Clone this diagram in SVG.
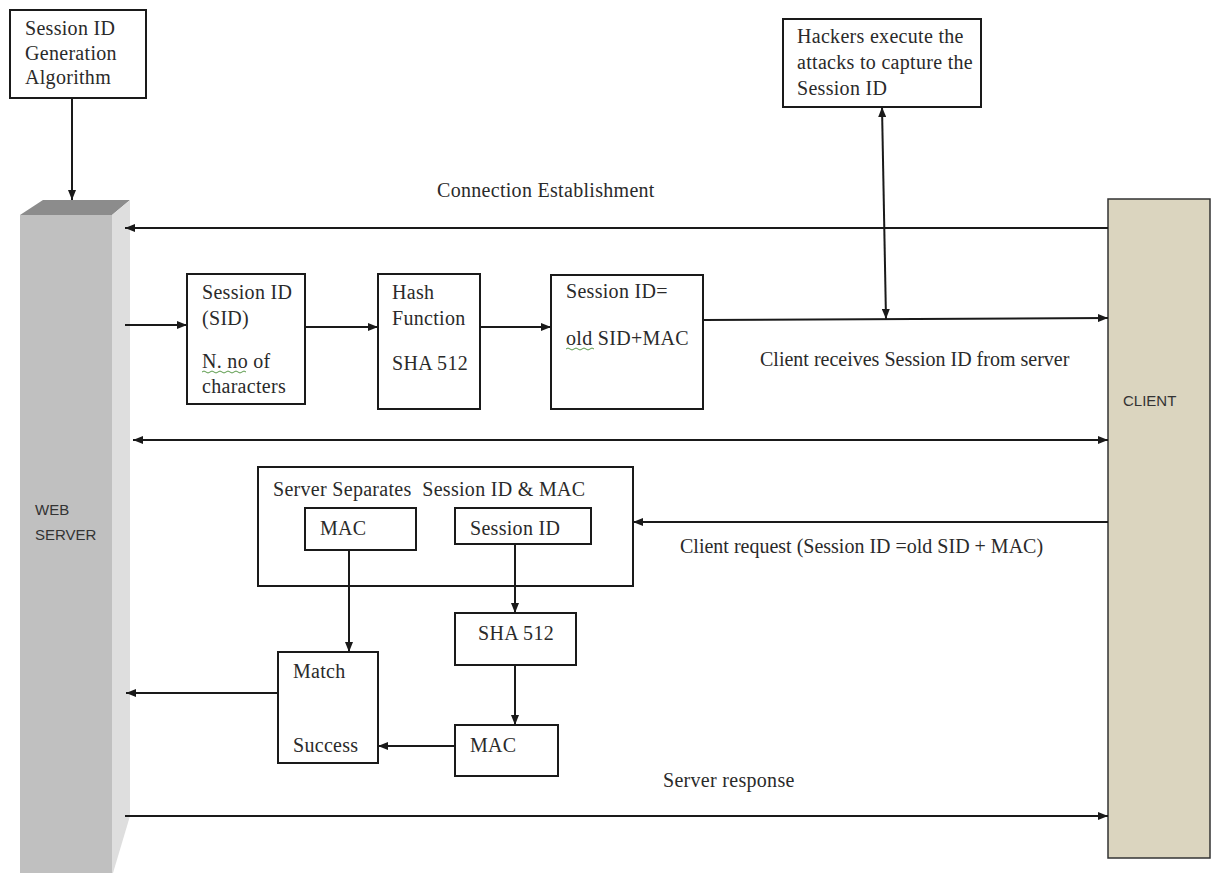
<svg xmlns="http://www.w3.org/2000/svg" width="1218" height="873" viewBox="0 0 1218 873">
<style>
.box{fill:#fff;stroke:#1a1a1a;stroke-width:2}
.t{font-family:"Liberation Serif","Times New Roman",serif;font-size:20px;fill:#2a2a2a;letter-spacing:0.3px}
.n{letter-spacing:0px}
.s{font-family:"Liberation Sans",Arial,sans-serif;font-size:15px;fill:#333}
.c{stroke:#1a1a1a;stroke-width:2;fill:none}
.wavy{stroke:#5a9a4a;stroke-width:1;fill:none}
</style>
<defs>
<marker id="ah" markerUnits="userSpaceOnUse" markerWidth="10" markerHeight="8" refX="10" refY="4" orient="auto-start-reverse">
<path d="M0,0 L10,4 L0,8 z" fill="#1a1a1a"/>
</marker>
</defs>
<rect width="1218" height="873" fill="#fff"/>

<g id="web-server">
<rect x="20" y="215" width="92" height="670" fill="#c0c0c0"/>
<polygon points="20,215 43,200 130,200 112,215" fill="#8c8c8c"/>
<polygon points="112,215 130,200 130,816 113,873 112,873" fill="#dedede"/>
<text class="s" x="35" y="515">WEB</text>
<text class="s" x="35" y="540">SERVER</text>
</g>

<g id="client">
<rect x="1108" y="199" width="102" height="659" fill="#dbd5bf" stroke="#333" stroke-width="1.5"/>
<text class="s" x="1123" y="406">CLIENT</text>
</g>

<g id="sid-gen">
<rect class="box" x="10" y="10" width="136" height="88"/>
<text class="t" x="25" y="35">Session ID</text>
<text class="t" x="25" y="60">Generation</text>
<text class="t" x="25" y="84">Algorithm</text>
</g>

<g id="hackers">
<rect class="box" x="783" y="19" width="198" height="88"/>
<text class="t" x="797" y="43">Hackers execute the</text>
<text class="t" x="797" y="69">attacks to capture the</text>
<text class="t" x="797" y="95">Session ID</text>
</g>

<g id="sid">
<rect class="box" x="187" y="274" width="118" height="130"/>
<text class="t" x="202" y="299">Session ID</text>
<text class="t" x="202" y="325">(SID)</text>
<text class="t" x="202" y="368">N. no of</text>
<text class="t" x="202" y="393">characters</text>
<path class="wavy" d="M202,372 q2,-2 4,0 t4,0 t4,0 t4,0 t4,0 t4,0 t4,0 t4,0 t4,0 t4,0 t4,0"/>
</g>

<g id="hash">
<rect class="box" x="378" y="274" width="102" height="135"/>
<text class="t" x="392" y="299">Hash</text>
<text class="t" x="392" y="325">Function</text>
<text class="t" x="392" y="370">SHA 512</text>
</g>

<g id="sid-mac">
<rect class="box" x="551" y="275" width="152" height="134"/>
<text class="t" x="566" y="298">Session ID=</text>
<text class="t" x="566" y="345">old SID+MAC</text>
<path class="wavy" d="M566,349 q2,-2 4,0 t4,0 t4,0 t4,0 t4,0 t4,0 t4,0"/>
</g>

<g id="server-separates">
<rect class="box" x="258" y="467" width="375" height="119"/>
<text class="t" x="273" y="496" style="white-space:pre">Server Separates  Session ID &amp; MAC</text>
</g>

<g id="mac-inner">
<rect class="box" x="305" y="508" width="111" height="42"/>
<text class="t" x="320" y="535">MAC</text>
</g>

<g id="sid-inner">
<rect class="box" x="455" y="508" width="136" height="36"/>
<text class="t" x="470" y="535">Session ID</text>
</g>

<g id="sha512">
<rect class="box" x="455" y="613" width="121" height="52"/>
<text class="t" x="478" y="640">SHA 512</text>
</g>

<g id="mac">
<rect class="box" x="455" y="725" width="103" height="51"/>
<text class="t" x="470" y="752">MAC</text>
</g>

<g id="match">
<rect class="box" x="278" y="652" width="100" height="111"/>
<text class="t" x="293" y="678">Match</text>
<text class="t" x="293" y="752">Success</text>
</g>

<g id="connectors">
<line class="c" x1="72" y1="98" x2="72" y2="200" marker-end="url(#ah)"/>
<line class="c" x1="1108" y1="228" x2="125" y2="228" marker-end="url(#ah)"/>
<line class="c" x1="125" y1="325" x2="187" y2="325" marker-end="url(#ah)"/>
<line class="c" x1="305" y1="327" x2="378" y2="327" marker-end="url(#ah)"/>
<line class="c" x1="480" y1="327" x2="551" y2="327" marker-end="url(#ah)"/>
<line class="c" x1="703" y1="320" x2="1108" y2="318" marker-end="url(#ah)"/>
<line class="c" x1="882" y1="107" x2="886" y2="319" marker-start="url(#ah)" marker-end="url(#ah)"/>
<line class="c" x1="133" y1="440" x2="1108" y2="440" marker-start="url(#ah)" marker-end="url(#ah)"/>
<line class="c" x1="1108" y1="522" x2="633" y2="522" marker-end="url(#ah)"/>
<line class="c" x1="349" y1="550" x2="349" y2="652" marker-end="url(#ah)"/>
<line class="c" x1="515" y1="544" x2="515" y2="613" marker-end="url(#ah)"/>
<line class="c" x1="515" y1="665" x2="515" y2="725" marker-end="url(#ah)"/>
<line class="c" x1="455" y1="746" x2="378" y2="746" marker-end="url(#ah)"/>
<line class="c" x1="278" y1="693" x2="126" y2="693" marker-end="url(#ah)"/>
<line class="c" x1="125" y1="816" x2="1108" y2="816" marker-end="url(#ah)"/>
<text class="t" x="437" y="197">Connection Establishment</text>
<text class="t n" x="760" y="366">Client receives Session ID from server</text>
<text class="t n" x="680" y="553">Client request (Session ID =old SID + MAC)</text>
<text class="t" x="663" y="787">Server response</text>
</g>
</svg>
